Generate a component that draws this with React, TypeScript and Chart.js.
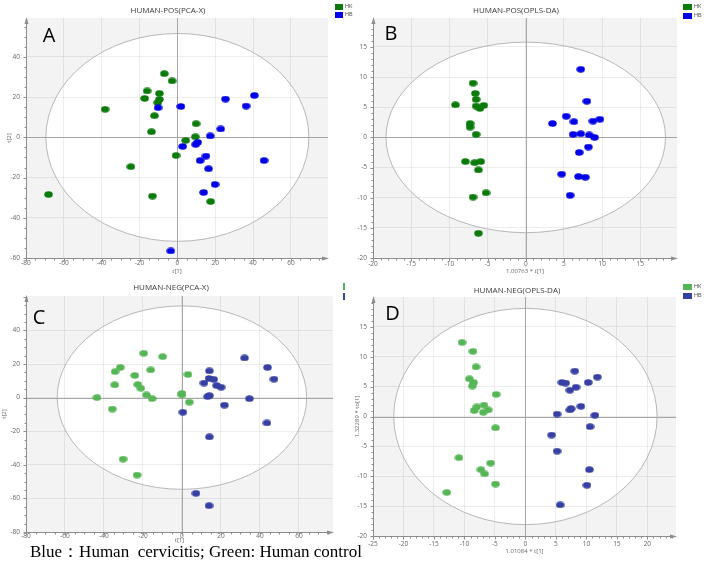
import React, { useEffect, useRef } from 'react';
import { Chart, registerables } from 'chart.js';
Chart.register(...registerables);

type Pt = [number, number];

// ---------- data ----------
const seriesNames = ['HK', 'HB'];
const panelTitles = ['HUMAN-POS(PCA-X)', 'HUMAN-POS(OPLS-DA)', 'HUMAN-NEG(PCA-X)', 'HUMAN-NEG(OPLS-DA)'];
const panelLetters = ['A', 'B', 'C', 'D'];
const captionText = 'Blue：Human  cervicitis; Green: Human control';

const posPcaHK: Pt[] = [
  [-68.1, -28.4], [-38.2, 14.0], [-6.9, 31.7], [-2.8, 28.1], [-16.0, 23.1], [-17.3, 19.4],
  [-9.5, 21.9], [-9.5, 18.9], [-10.4, 17.3], [-12.1, 10.8], [-13.7, 2.8], [9.9, 6.8],
  [9.5, 0.3], [4.4, -1.5], [-0.7, -9.0], [-24.6, -14.6], [-13.2, -29.2], [17.6, -31.9],
];
const posPcaHB: Pt[] = [
  [-10.2, 14.8], [1.9, 15.4], [25.4, 19.1], [40.7, 20.9], [36.3, 15.6], [22.9, 4.2],
  [17.4, 0.7], [10.7, -2.5], [9.7, -3.5], [2.8, -4.5], [15.1, -9.3], [12.0, -11.5],
  [16.5, -15.6], [19.9, -23.4], [13.9, -27.4], [45.8, -11.5], [-3.5, -56.5],
];
const posOplsHK: Pt[] = [
  [-6.9, 9.0], [-6.6, 7.3], [-6.5, 6.3], [-9.2, 5.4], [-6.5, 5.2], [-5.5, 5.3],
  [-6.0, 4.8], [-7.3, 2.3], [-7.3, 1.7], [-6.5, 0.5], [-7.9, -4.0], [-6.7, -4.2],
  [-5.9, -4.0], [-6.2, -5.4], [-5.2, -9.2], [-6.9, -9.9], [-6.2, -15.9],
];
const posOplsHB: Pt[] = [
  [7.2, 11.3], [8.0, 6.0], [5.3, 3.5], [3.5, 2.3], [6.3, 2.6], [8.8, 2.7],
  [9.7, 3.0], [6.2, 0.5], [7.2, 0.6], [8.3, 0.4], [9.0, 0.0], [8.2, -1.6],
  [7.0, -2.5], [4.7, -6.1], [6.9, -6.5], [7.8, -6.6], [5.8, -9.6],
];
const negPcaHK: Pt[] = [
  [-43.6, 0.0], [-35.7, -6.8], [-34.5, 7.6], [-34.3, 15.5], [-31.6, 18.0], [-24.2, 13.2],
  [-22.6, 7.8], [-21.1, 5.6], [-19.6, 26.4], [-16.0, 16.5], [-9.9, 24.4], [-18.2, 1.6],
  [-15.3, -0.6], [0.0, 2.5], [0.0, 1.6], [3.1, 13.8], [3.8, -2.7], [-30.2, -36.6], [-23.0, -46.1],
];
const negPcaHB: Pt[] = [
  [32.1, 23.6], [43.9, 18.0], [47.2, 11.0], [14.1, 15.9], [13.9, 11.4], [16.3, 10.9],
  [11.3, 8.7], [17.8, 7.2], [20.1, 6.2], [14.1, 1.2], [13.2, 0.6], [34.6, -0.6],
  [21.8, -4.5], [0.5, -8.7], [43.6, -15.1], [14.1, -23.4], [7.2, -57.0], [13.9, -64.3],
];
const negOplsHK: Pt[] = [
  [-10.4, 12.4], [-8.6, 10.9], [-8.1, 8.3], [-9.2, 6.3], [-8.5, 5.7], [-8.7, 5.1],
  [-4.8, 3.7], [-6.8, 1.9], [-8.0, 1.6], [-8.4, 1.0], [-6.9, 0.7], [-6.1, 1.1],
  [-4.9, -1.9], [-10.9, -6.9], [-5.7, -7.8], [-7.3, -8.9], [-6.7, -9.6], [-4.9, -11.3], [-12.9, -12.7],
];
const negOplsHB: Pt[] = [
  [8.1, 7.6], [11.8, 6.6], [6.0, 5.7], [6.6, 5.6], [10.3, 5.7], [8.3, 4.9],
  [7.3, 4.4], [9.1, 1.7], [7.5, 1.3], [7.3, 1.1], [5.2, 0.4], [11.4, 0.2],
  [10.6, -1.7], [4.3, -3.1], [5.2, -5.8], [10.5, -8.9], [10.1, -11.5], [5.7, -14.8],
];

const ticksPosPcaX = [-80, -60, -40, -20, 0, 20, 40, 60];
const ticksPosPcaY = [-60, -40, -20, 0, 20, 40];
const ticksPosOplsX = [-20, -15, -10, -5, 0, 5, 10, 15];
const ticksPosOplsY = [-20, -15, -10, -5, 0, 5, 10, 15];
const ticksNegPcaX = [-80, -60, -40, -20, 0, 20, 40, 60];
const ticksNegPcaY = [-80, -60, -40, -20, 0, 20, 40];
const ticksNegOplsX = [-25, -20, -15, -10, -5, 0, 5, 10, 15, 20];
const ticksNegOplsY = [-20, -15, -10, -5, 0, 5, 10, 15];

// ---------- styles ----------
const FONT = "'Open Sans', 'DejaVu Sans', sans-serif";
const GRID = 'rgba(0,0,0,0.07)';
const TICK = '#666';
const GREEN1 = '#0a7a0a';
const BLUE1 = '#0000e6';
const GREEN2 = '#56b656';
const BLUE2 = '#3640a2';

function makeDot(color: string, w = 9, h = 7) {
  const c = document.createElement('canvas');
  c.width = w;
  c.height = h;
  const g = c.getContext('2d')!;
  g.fillStyle = color;
  g.beginPath();
  g.ellipse(w / 2, h / 2, w / 2 - 0.3, h / 2 - 0.3, 0, 0, Math.PI * 2);
  g.fill();
  return c;
}

const decorPlugin = {
  id: 'decor',
  beforeDraw(chart: any, _a: any, o: any) {
    const { ctx, chartArea: ca } = chart;
    const xs = chart.scales.x, ys = chart.scales.y;
    ctx.save();
    ctx.fillStyle = '#f3f3f3';
    ctx.fillRect(ca.left, ca.top, ca.right - ca.left, ca.bottom - ca.top);
    const cx = xs.getPixelForValue(0), cy = ys.getPixelForValue(0);
    const rx = xs.getPixelForValue(o.rx) - cx, ry = cy - ys.getPixelForValue(o.ry);
    ctx.beginPath();
    ctx.ellipse(cx, cy, rx, ry, 0, 0, Math.PI * 2);
    ctx.fillStyle = '#ffffff';
    ctx.fill();
    ctx.restore();
  },
  beforeDatasetsDraw(chart: any, _a: any, o: any) {
    const { ctx, chartArea: ca } = chart;
    const xs = chart.scales.x, ys = chart.scales.y;
    const cx = xs.getPixelForValue(0), cy = ys.getPixelForValue(0);
    const rx = xs.getPixelForValue(o.rx) - cx, ry = cy - ys.getPixelForValue(o.ry);
    ctx.save();
    ctx.lineWidth = 1;
    ctx.strokeStyle = '#b8b8b8';
    ctx.beginPath();
    ctx.ellipse(cx, cy, rx, ry, 0, 0, Math.PI * 2);
    ctx.stroke();
    const X0 = Math.round(cx) + 0.5, Y0 = Math.round(cy) + 0.5;
    ctx.strokeStyle = '#a6a6a6';
    ctx.beginPath();
    ctx.moveTo(X0, ca.top); ctx.lineTo(X0, ca.bottom);
    ctx.moveTo(ca.left, Y0); ctx.lineTo(ca.right, Y0);
    ctx.stroke();
    const L = Math.round(ca.left) + 0.5, B = Math.round(ca.bottom) + 0.5;
    ctx.strokeStyle = '#8c8c8c';
    ctx.fillStyle = '#8c8c8c';
    ctx.beginPath();
    ctx.moveTo(L, B); ctx.lineTo(L, ca.top + 2);
    ctx.moveTo(L, B); ctx.lineTo(ca.right - 2, B);
    const nx = Math.round((xs.max - xs.min) / o.xMinor);
    const x0 = Math.ceil(xs.min / o.xMinor - 1e-9);
    for (let i = 0; i <= nx; i++) {
      const v = (x0 + i) * o.xMinor;
      if (v > xs.max - 1e-9) break;
      const major = Math.abs(v / o.xMajor - Math.round(v / o.xMajor)) < 1e-6;
      const p = Math.round(xs.getPixelForValue(v)) + 0.5;
      ctx.moveTo(p, B); ctx.lineTo(p, B + (major ? 3 : 2));
    }
    const ny = Math.round((ys.max - ys.min) / o.yMinor);
    const y0 = Math.ceil(ys.min / o.yMinor - 1e-9);
    for (let i = 0; i <= ny; i++) {
      const v = (y0 + i) * o.yMinor;
      if (v > ys.max - 1e-9) break;
      const major = Math.abs(v / o.yMajor - Math.round(v / o.yMajor)) < 1e-6;
      const p = Math.round(ys.getPixelForValue(v)) + 0.5;
      ctx.moveTo(L, p); ctx.lineTo(L - (major ? 3 : 2), p);
    }
    ctx.stroke();
    ctx.beginPath();
    ctx.moveTo(L, ca.top - 1); ctx.lineTo(L - 2, ca.top + 6); ctx.lineTo(L + 2, ca.top + 6);
    ctx.closePath(); ctx.fill();
    ctx.beginPath();
    ctx.moveTo(ca.right + 1, B); ctx.lineTo(ca.right - 6, B - 2); ctx.lineTo(ca.right - 6, B + 2);
    ctx.closePath(); ctx.fill();
    ctx.restore();
  },
};

type PanelCfg = {
  left: number; top: number; w: number; h: number;
  padTop: number; padRight: number; yWidth: number; xHeight: number;
  xMin: number; xMax: number; yMin: number; yMax: number;
  xTicks: number[]; yTicks: number[]; xMajor: number; yMajor: number; xMinor: number; yMinor: number;
  rx: number; ry: number;
  hk: Pt[]; hb: Pt[]; green: string; blue: string;
  xTitle: string; yTitle: string; xPad: number; xTitlePadB: number; yTitlePad: number;
};

function Panel({ cfg }: { cfg: PanelCfg }) {
  const ref = useRef<HTMLCanvasElement>(null);
  useEffect(() => {
    const font = { family: FONT, size: 6.5 };
    const chart = new Chart(ref.current!, {
      type: 'scatter',
      data: {
        datasets: [
          { label: seriesNames[0], data: cfg.hk.map(([x, y]) => ({ x, y })), pointStyle: makeDot(cfg.green) as any, pointRadius: 4, order: 1 },
          { label: seriesNames[1], data: cfg.hb.map(([x, y]) => ({ x, y })), pointStyle: makeDot(cfg.blue) as any, pointRadius: 4, order: 0 },
        ],
      },
      options: {
        animation: false,
        responsive: false,
        events: [],
        layout: { padding: { top: cfg.padTop, right: cfg.padRight, left: 0, bottom: 0 } },
        plugins: {
          legend: { display: false },
          tooltip: { enabled: false },
          decor: { rx: cfg.rx, ry: cfg.ry, xMajor: cfg.xMajor, yMajor: cfg.yMajor, xMinor: cfg.xMinor, yMinor: cfg.yMinor },
        } as any,
        scales: {
          x: {
            type: 'linear', position: 'bottom', min: cfg.xMin, max: cfg.xMax,
            afterBuildTicks: (s: any) => { s.ticks = cfg.xTicks.map((v) => ({ value: v })); },
            afterFit: (s: any) => { s.height = cfg.xHeight; },
            grid: { color: GRID, drawTicks: false },
            border: { display: false },
            ticks: { font, color: TICK, padding: cfg.xPad, maxRotation: 0, autoSkip: false },
            title: { display: !!cfg.xTitle, text: cfg.xTitle, font: { family: FONT, size: 6 }, color: TICK, padding: { top: 0, bottom: cfg.xTitlePadB } },
          },
          y: {
            type: 'linear', position: 'left', min: cfg.yMin, max: cfg.yMax,
            afterBuildTicks: (s: any) => { s.ticks = cfg.yTicks.map((v) => ({ value: v })); },
            afterFit: (s: any) => { s.width = cfg.yWidth; },
            grid: { color: GRID, drawTicks: false },
            border: { display: false },
            ticks: { font, color: TICK, padding: 6, autoSkip: false },
            title: { display: !!cfg.yTitle, text: cfg.yTitle, font: { family: FONT, size: 6 }, color: TICK, padding: { top: cfg.yTitlePad, bottom: 0 } },
          },
        } as any,
      },
      plugins: [decorPlugin as any],
    });
    return () => chart.destroy();
  }, []);
  return (
    <canvas
      ref={ref}
      width={cfg.w}
      height={cfg.h}
      style={{ position: 'absolute', left: cfg.left, top: cfg.top, width: cfg.w, height: cfg.h }}
    />
  );
}

const panels: PanelCfg[] = [
  {
    left: 0, top: 0, w: 340, h: 275, padTop: 18, padRight: 12, yWidth: 26, xHeight: 17,
    xMin: -80, xMax: 79.6, yMin: -60, yMax: 59.4, xTicks: ticksPosPcaX, yTicks: ticksPosPcaY,
    xMajor: 20, yMajor: 20, xMinor: 5, yMinor: 5, rx: 69.5, ry: 51.7,
    hk: posPcaHK, hb: posPcaHB, green: GREEN1, blue: BLUE1,
    xTitle: 't[1]', yTitle: 't[2]', xPad: 1, xTitlePadB: 0, yTitlePad: 6,
  },
  {
    left: 354, top: 0, w: 340, h: 275, padTop: 18, padRight: 17, yWidth: 19, xHeight: 17,
    xMin: -20, xMax: 19.8, yMin: -20, yMax: 19.8, xTicks: ticksPosOplsX, yTicks: ticksPosOplsY,
    xMajor: 5, yMajor: 5, xMinor: 1, yMinor: 1, rx: 18.3, ry: 15.8,
    hk: posOplsHK, hb: posOplsHB, green: GREEN1, blue: BLUE1,
    xTitle: '1.00763 * t[1]', yTitle: '', xPad: 2, xTitlePadB: 0, yTitlePad: 0,
  },
  {
    left: 0, top: 270, w: 340, h: 275, padTop: 26, padRight: 7, yWidth: 26, xHeight: 13,
    xMin: -80, xMax: 77.5, yMin: -80, yMax: 60.5, xTicks: ticksNegPcaX, yTicks: ticksNegPcaY,
    xMajor: 20, yMajor: 20, xMinor: 5, yMinor: 5, rx: 64, ry: 54.6,
    hk: negPcaHK, hb: negPcaHB, green: GREEN2, blue: BLUE2,
    xTitle: 't[1]', yTitle: 't[2]', xPad: 0, xTitlePadB: 1, yTitlePad: 0.5,
  },
  {
    left: 354, top: 270, w: 340, h: 285, padTop: 27, padRight: 18, yWidth: 19, xHeight: 19,
    xMin: -25, xMax: 24.7, yMin: -20, yMax: 20, xTicks: ticksNegOplsX, yTicks: ticksNegOplsY,
    xMajor: 5, yMajor: 5, xMinor: 1, yMinor: 1, rx: 21.6, ry: 18.1,
    hk: negOplsHK, hb: negOplsHB, green: GREEN2, blue: BLUE2,
    xTitle: '1.01084 * t[1]', yTitle: '1.32289 * to[1]', xPad: 4, xTitlePadB: 0, yTitlePad: 0,
  },
];

const titlePos = [[168, 9.5], [516, 10], [171, 287], [517, 290]];
const letterPos = [[49, 35], [391, 33], [39, 316.5], [392.5, 312.5]];
const legendPos = [[335, 4, 8, 5.5, 1], [683, 4, 9, 6, 1], [343, 283, 2, 7, 0], [683, 284, 9, 6, 1]];
const legendColors = [[GREEN1, BLUE1], [GREEN1, BLUE1], [GREEN2, BLUE2], [GREEN2, BLUE2]];

const centered = (x: number, y: number): React.CSSProperties => ({
  position: 'absolute', left: x, top: y, transform: 'translate(-50%, -50%)', lineHeight: 1, whiteSpace: 'nowrap',
});

export default function App() {
  return (
    <div style={{ position: 'absolute', left: 0, top: 0, width: 708, height: 569, background: '#fff', overflow: 'hidden' }}>
      {panels.map((p, i) => <Panel key={i} cfg={p} />)}
      {panelTitles.map((t, i) => (
        <div key={'t' + i} style={{ ...centered(titlePos[i][0], titlePos[i][1]), fontFamily: FONT, fontSize: 8, color: '#3a3a3a' }}>{t}</div>
      ))}
      {panelLetters.map((t, i) => (
        <div key={'l' + i} style={{ ...centered(letterPos[i][0], letterPos[i][1]), fontFamily: FONT, fontSize: 20, color: '#000' }}>{t}</div>
      ))}
      {legendPos.map(([x, y, w, h, showText], i) => (
        <React.Fragment key={'g' + i}>
          {seriesNames.map((s, j) => (
            <React.Fragment key={s}>
              <div style={{ position: 'absolute', left: x, top: y + j * (h + 2.5), width: w, height: h, background: legendColors[i][j] }} />
              {showText ? (
                <div style={{ position: 'absolute', left: x + w + 2, top: y + j * (h + 2.5) + h / 2, transform: 'translateY(-50%)', fontFamily: FONT, fontSize: 5.5, lineHeight: 1, color: '#444' }}>{s}</div>
              ) : null}
            </React.Fragment>
          ))}
        </React.Fragment>
      ))}
      <div style={{ position: 'absolute', left: 30, top: 551, transform: 'translateY(-50%)', fontFamily: "'Liberation Serif', 'Times New Roman', serif", fontSize: 17, lineHeight: 1, whiteSpace: 'pre', color: '#000' }}>
        {captionText}
      </div>
    </div>
  );
}
